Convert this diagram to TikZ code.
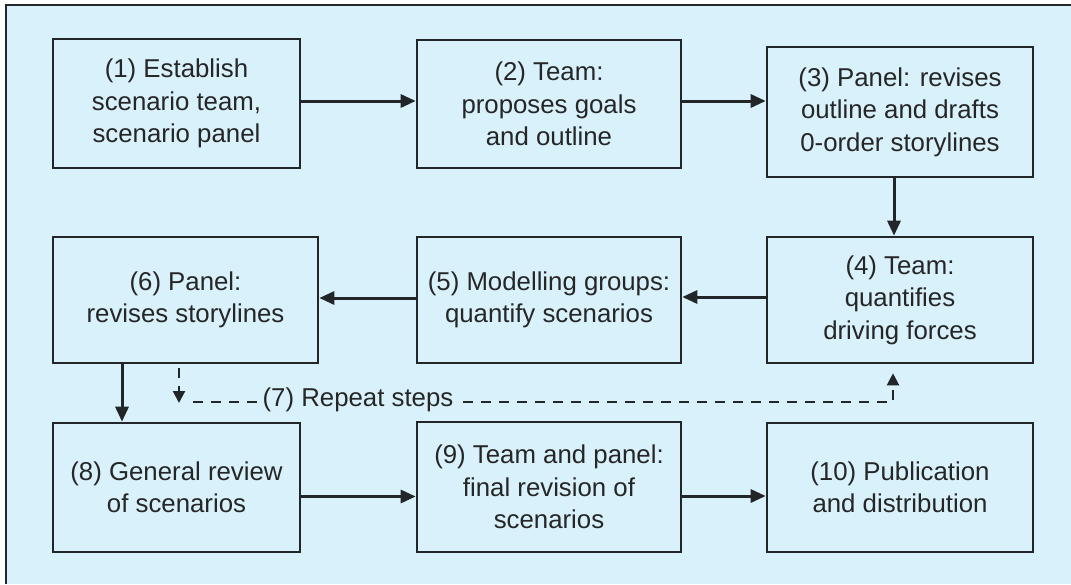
\documentclass[tikz,border=0pt]{standalone}
\usepackage{fontspec}
\setmainfont{Liberation Sans}
\usetikzlibrary{arrows.meta}
\definecolor{bgc}{RGB}{216,241,250}
\definecolor{linec}{RGB}{34,38,40}
\definecolor{txtc}{RGB}{38,38,38}
\begin{document}
\begin{tikzpicture}[x=1pt,y=-1pt,
  stepbox/.style={draw=linec, line width=2.6pt, align=center, inner sep=0pt,
    text=txtc, font=\fontsize{25.8}{32.5}\selectfont},
  arr/.style={draw=linec, line width=3pt, -{Triangle[length=15pt,width=13pt]}},
  dsh/.style={draw=linec, line width=2.2pt, dash pattern=on 10pt off 8pt,
    -{Triangle[length=12pt,width=12pt]}},
  lbl/.style={text=txtc, font=\fontsize{25.8}{32.5}\selectfont, fill=bgc, inner sep=4pt}]
\useasboundingbox (0,0) rectangle (1071,584);
\fill[white] (0,0) rectangle (1071,584);
\fill[bgc] (6,5) rectangle (1071,584);
\draw[linec, line width=2.4pt] (6,584) -- (6,5) -- (1071,5);

\node[stepbox, minimum width=247pt, minimum height=129pt] (b1) at (176.5,103.5)
  {(1) Establish\\scenario team,\\scenario panel};
\node[stepbox, minimum width=264pt, minimum height=128pt] (b2) at (549,104)
  {(2) Team:\\proposes goals\\and outline};
\node[stepbox, minimum width=266pt, minimum height=130pt] (b3) at (900,112)
  {(3) Panel: revises\\outline and drafts\\0-order storylines};
\node[stepbox, minimum width=266pt, minimum height=126pt] (b4) at (900,300)
  {(4) Team:\\quantifies\\driving forces};
\node[stepbox, minimum width=264pt, minimum height=126pt] (b5) at (549,300)
  {(5) Modelling groups:\\quantify scenarios};
\node[stepbox, minimum width=265pt, minimum height=126pt] (b6) at (185.5,300)
  {(6) Panel:\\revises storylines};
\node[stepbox, minimum width=247pt, minimum height=129pt] (b8) at (176.5,487.5)
  {(8) General review\\of scenarios};
\node[stepbox, minimum width=264pt, minimum height=130pt] (b9) at (549,487)
  {(9) Team and panel:\\final revision of\\scenarios};
\node[stepbox, minimum width=266pt, minimum height=129pt] (b10) at (900,487.5)
  {(10) Publication\\and distribution};

\draw[arr] ([yshift=2.5pt]b1.east) -- ([yshift=2.5pt]b1.east -| b2.west);
\draw[arr] ([yshift=3pt]b2.east) -- ([yshift=3pt]b2.east -| b3.west);
\draw[arr] ([xshift=-6pt]b3.south) -- ([xshift=-6pt]b4.north);
\draw[arr] ([yshift=3pt]b4.west) -- ([yshift=3pt]b4.west -| b5.east);
\draw[arr] ([yshift=2pt]b5.west) -- ([yshift=2pt]b5.west -| b6.east);
\draw[arr] (b6.south -| 122,0) -- (b8.north -| 122,0);
\draw[arr] ([yshift=-9pt]b8.east) -- ([yshift=-9pt]b8.east -| b9.west);
\draw[arr] ([yshift=-9pt]b9.east) -- ([yshift=-9pt]b9.east -| b10.west);

\coordinate (r0) at (179,368);
\coordinate (r1) at (179,403);
\coordinate (r2) at (193,402);
\coordinate (r3) at (893,402);
\draw[dsh] (r0) -- (r1);
\draw[dsh] (r2) -- (r3) -- ([xshift=-7pt,yshift=-9pt]b4.south);
\node[lbl] (l7) at (358,400) {(7) Repeat steps};
\end{tikzpicture}
\end{document}
